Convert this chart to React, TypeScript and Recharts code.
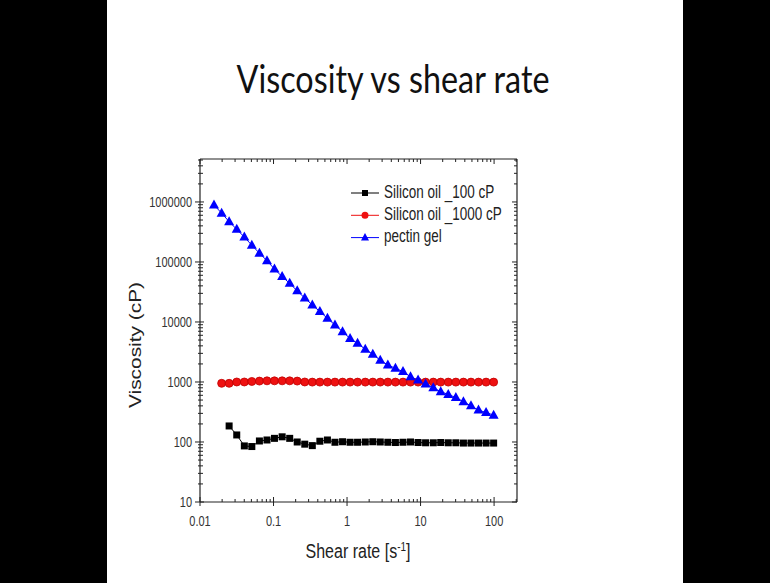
import { LineChart, Line, XAxis, YAxis, Legend } from 'recharts';

// shear rate grid (s^-1)
const shearRate = [
  0.0155, 0.0197, 0.0249, 0.0316, 0.0401, 0.0507, 0.0643, 0.0815, 0.103, 0.131,
  0.166, 0.21, 0.266, 0.337, 0.427, 0.541, 0.685, 0.869, 1.1, 1.39,
  1.77, 2.24, 2.83, 3.59, 4.55, 5.77, 7.3, 9.25, 11.7, 14.9,
  18.8, 23.8, 30.2, 38.3, 48.5, 61.4, 77.8, 98.6,
];

// viscosity in cP
const pectinGel = [
  890000, 650000, 470000, 350000, 260000, 190000, 140000, 105000, 76000, 57000,
  44000, 33000, 25000, 19200, 14900, 11500, 8900, 6900, 5300, 4400,
  3500, 2900, 2300, 1920, 1690, 1490, 1220, 1080, 930, 800,
  690, 620, 550, 470, 400, 340, 310, 280,
];

// starts at the 2nd shear rate
const siliconOil1000 = [
  950, 950, 1000, 1000, 1020, 1035, 1045, 1045, 1045, 1045,
  1035, 1000, 995, 995, 995, 995, 995, 995, 995, 995,
  995, 995, 995, 995, 995, 995, 995, 995, 995, 995,
  995, 995, 995, 995, 995, 995, 995,
];

// starts at the 3rd shear rate
const siliconOil100 = [
  185, 131, 86, 84, 104, 108, 115, 122, 115, 100,
  92, 87, 103, 108, 99, 101, 99, 99, 100, 101,
  100, 99, 98, 99, 100, 98, 97, 97, 98, 97,
  97, 96, 96, 96, 96, 96,
];

const seriesNames = ['Silicon oil _100 cP', 'Silicon oil _1000 cP', 'pectin gel'];
const seriesColors = ['#000000', '#ee1111', '#0000ff'];

const xMajorTicks = [0.01, 0.1, 1, 10, 100];
const yMajorTicks = [10, 100, 1000, 10000, 100000, 1000000];
const xDomain = [0.01, 205];
const yDomain = [10, 5200000];

const withMinors = (majors: number[], max: number) =>
  majors
    .flatMap((m) => [1, 2, 3, 4, 5, 6, 7, 8, 9].map((k) => +(m * k).toPrecision(6)))
    .filter((v) => v <= max);

const xTicks = withMinors(xMajorTicks, xDomain[1]);
const yTicks = withMinors(yMajorTicks, yDomain[1]);

const toPoints = (xs: number[], ys: number[]) => ys.map((v, i) => ({ x: xs[i], v }));

const oil100Data = toPoints(shearRate.slice(2), siliconOil100);
const oil1000Data = toPoints(shearRate.slice(1), siliconOil1000);
const pectinData = toPoints(shearRate, pectinGel);

const FONT = "'Liberation Sans', Arial, sans-serif";
const AXIS = '#222';
const STRETCH = 1.3;

const isMajor = (v: number) => Math.abs(Math.log10(v) - Math.round(Math.log10(v))) < 1e-6;

function BottomTick(props: any) {
  const { x, y, payload } = props;
  const major = isMajor(payload.value);
  return (
    <g>
      <line x1={x} x2={x} y1={y + (major ? 4 : 0)} y2={y - (major ? 5 : 3)} stroke={AXIS} />
      {major && (
        <text
          transform={`translate(${x},${y + 24}) scale(1,${STRETCH})`}
          textAnchor="middle"
          fontSize={11}
          fontFamily={FONT}
          fill="#333"
        >
          {String(payload.value)}
        </text>
      )}
    </g>
  );
}

function LeftTick(props: any) {
  const { x, y, payload } = props;
  const major = isMajor(payload.value);
  return (
    <g>
      <line x1={x - (major ? 5 : 2)} x2={x + (major ? 4 : 3)} y1={y} y2={y} stroke={AXIS} />
      {major && (
        <text
          transform={`translate(${x - 8},${y + 5}) scale(1,${STRETCH})`}
          textAnchor="end"
          fontSize={11}
          fontFamily={FONT}
          fill="#333"
        >
          {String(payload.value)}
        </text>
      )}
    </g>
  );
}

function TopTick(props: any) {
  const { x, y, payload } = props;
  const len = isMajor(payload.value) ? 5 : 3;
  return <line x1={x} x2={x} y1={y} y2={y + len} stroke={AXIS} />;
}

function RightTick(props: any) {
  const { x, y, payload } = props;
  const len = isMajor(payload.value) ? 5 : 3;
  return <line x1={x} x2={x - len} y1={y} y2={y} stroke={AXIS} />;
}

const squareDot = (p: any) => (
  <rect key={`sq-${p.index}`} x={p.cx - 3.5} y={p.cy - 3.5} width={7} height={7} fill={seriesColors[0]} />
);

const circleDot = (p: any) => (
  <circle key={`ci-${p.index}`} cx={p.cx} cy={p.cy} r={4} fill={seriesColors[1]} stroke="#c00000" strokeWidth={0.8} />
);

const triangleDot = (p: any) => (
  <polygon
    key={`tr-${p.index}`}
    points={`${p.cx},${p.cy - 5.5} ${p.cx + 5},${p.cy + 3.5} ${p.cx - 5},${p.cy + 3.5}`}
    fill={seriesColors[2]}
  />
);

function LegendMarker({ i, cx, cy }: { i: number; cx: number; cy: number }) {
  if (i === 0) return <rect x={cx - 3} y={cy - 3} width={6} height={6} fill={seriesColors[0]} />;
  if (i === 1) return <circle cx={cx} cy={cy} r={3.5} fill={seriesColors[1]} />;
  return <polygon points={`${cx},${cy - 4.5} ${cx + 4},${cy + 3} ${cx - 4},${cy + 3}`} fill={seriesColors[2]} />;
}

function renderLegend() {
  return (
    <svg width={170} height={70}>
      {seriesNames.map((name, i) => {
        const cy = 11 + i * 22.3;
        return (
          <g key={name}>
            <line x1={0} x2={28} y1={cy} y2={cy} stroke={seriesColors[i]} strokeWidth={1} />
            <LegendMarker i={i} cx={14} cy={cy} />
            <text
              transform={`translate(33,${cy + 4.5}) scale(1,${STRETCH})`}
              fontSize={13.5}
              fontFamily={FONT}
              fill="#222"
            >
              {name}
            </text>
          </g>
        );
      })}
    </svg>
  );
}

export default function App() {
  return (
    <div style={{ position: 'absolute', left: 0, top: 0, width: 770, height: 583, background: '#000', overflow: 'hidden' }}>
      <div style={{ position: 'absolute', left: 107, top: 0, width: 576, height: 583, background: '#fff' }} />
      <div style={{ position: 'absolute', left: 0, top: 0 }}>
        <LineChart width={770} height={583} margin={{ top: 158, right: 252, bottom: 51, left: 130 }}>
          <XAxis
            dataKey="x"
            type="number"
            scale="log"
            domain={xDomain}
            allowDataOverflow
            ticks={xTicks}
            interval={0}
            tick={<BottomTick />}
            tickLine={false}
            tickSize={0}
            tickMargin={0}
            height={30}
            axisLine={{ stroke: AXIS, strokeWidth: 1.2 }}
          />
          <XAxis
            xAxisId="top"
            orientation="top"
            dataKey="x"
            type="number"
            scale="log"
            domain={xDomain}
            allowDataOverflow
            ticks={xTicks}
            interval={0}
            tick={<TopTick />}
            tickLine={false}
            tickSize={0}
            tickMargin={0}
            height={1}
            axisLine={{ stroke: AXIS, strokeWidth: 1.2 }}
          />
          <YAxis
            type="number"
            scale="log"
            domain={yDomain}
            allowDataOverflow
            ticks={yTicks}
            interval={0}
            tick={<LeftTick />}
            tickLine={false}
            tickSize={0}
            tickMargin={0}
            width={70}
            axisLine={{ stroke: AXIS, strokeWidth: 1.2 }}
          />
          <YAxis
            yAxisId="right"
            orientation="right"
            type="number"
            scale="log"
            domain={yDomain}
            allowDataOverflow
            ticks={yTicks}
            interval={0}
            tick={<RightTick />}
            tickLine={false}
            tickSize={0}
            tickMargin={0}
            width={1}
            axisLine={{ stroke: AXIS, strokeWidth: 1.2 }}
          />
          <Legend
            layout="vertical"
            align="center"
            verticalAlign="middle"
            content={renderLegend}
            wrapperStyle={{ left: 351, top: 182, width: 170, height: 70 }}
          />
          {/* invisible series so the mirrored top/right frame axes get drawn */}
          <Line
            data={pectinData}
            dataKey="v"
            xAxisId="top"
            yAxisId="right"
            stroke="none"
            dot={false}
            activeDot={false}
            legendType="none"
            isAnimationActive={false}
          />
          <Line
            data={oil100Data}
            dataKey="v"
            name={seriesNames[0]}
            stroke={seriesColors[0]}
            strokeWidth={1}
            dot={squareDot}
            isAnimationActive={false}
          />
          <Line
            data={oil1000Data}
            dataKey="v"
            name={seriesNames[1]}
            stroke={seriesColors[1]}
            strokeWidth={1}
            dot={circleDot}
            isAnimationActive={false}
          />
          <Line
            data={pectinData}
            dataKey="v"
            name={seriesNames[2]}
            stroke={seriesColors[2]}
            strokeWidth={1}
            dot={triangleDot}
            isAnimationActive={false}
          />
        </LineChart>
      </div>
      <svg width={770} height={583} style={{ position: 'absolute', left: 0, top: 0, pointerEvents: 'none' }}>
        <text
          x={393}
          y={93}
          textAnchor="middle"
          fontSize={38}
          fontFamily="Lato, 'Open Sans', sans-serif"
          textLength={313}
          lengthAdjust="spacingAndGlyphs"
          fill="#111"
        >
          Viscosity vs shear rate
        </text>
        <text
          transform="translate(358,558) scale(1,1.25)"
          textAnchor="middle"
          fontSize={16}
          fontFamily={FONT}
          fill="#222"
        >
          Shear rate [s
          <tspan dy={-6} fontSize={10}>-1</tspan>
          <tspan dy={6}>]</tspan>
        </text>
        <text
          transform="translate(141,345) rotate(-90)"
          textAnchor="middle"
          fontSize={16}
          fontFamily={FONT}
          textLength={126}
          lengthAdjust="spacingAndGlyphs"
          fill="#222"
        >
          Viscosity (cP)
        </text>
      </svg>
    </div>
  );
}
